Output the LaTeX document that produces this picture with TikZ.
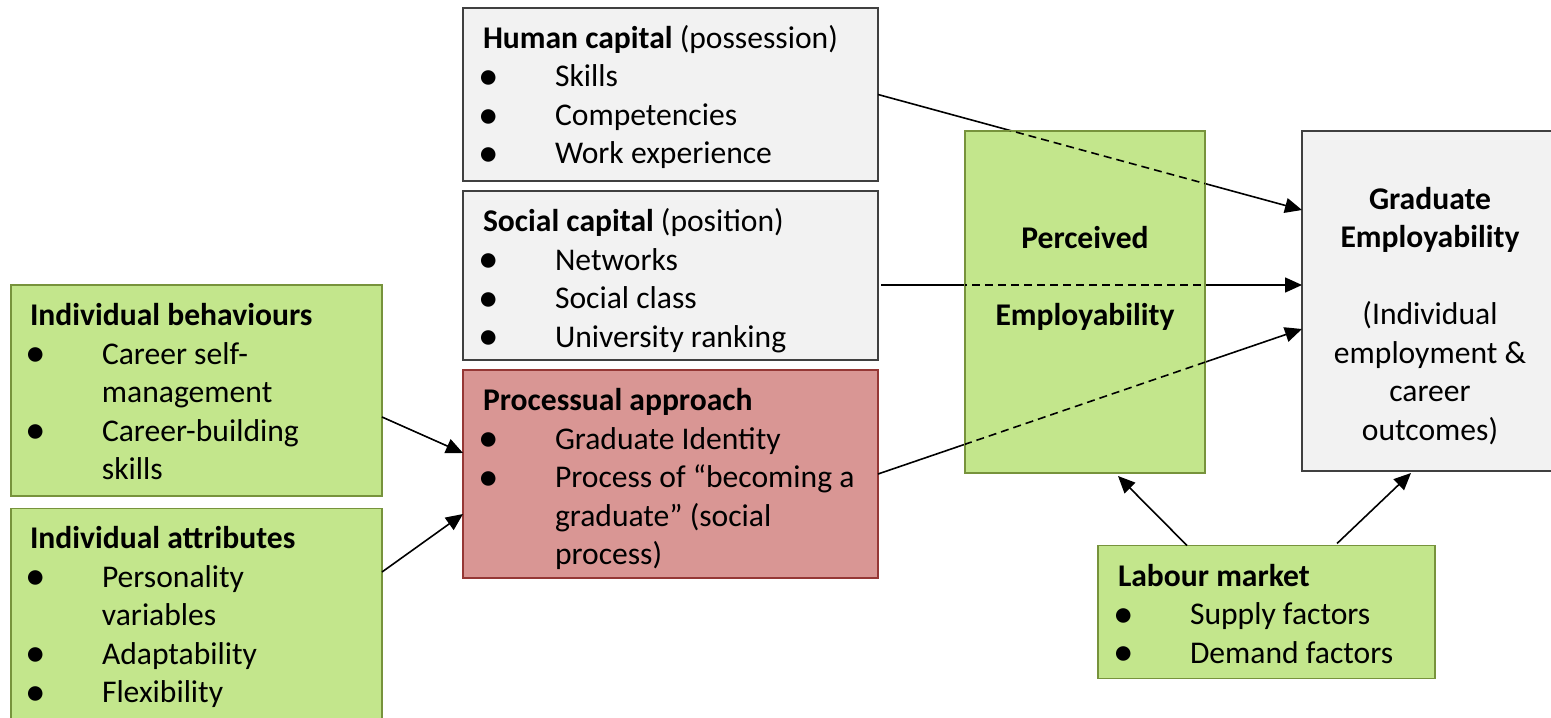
\documentclass[tikz,border=0pt]{standalone}
\usepackage{fontspec}
\setmainfont{Carlito}
\usetikzlibrary{calc,arrows.meta}
\definecolor{gfill}{HTML}{C3E68C}
\definecolor{gline}{HTML}{77933C}
\definecolor{kfill}{HTML}{F2F2F2}
\definecolor{kline}{HTML}{404040}
\definecolor{rfill}{HTML}{D99694}
\definecolor{rline}{HTML}{953735}
\newcommand\bul{\makebox[36pt][l]{\hspace{-2.4pt}\raisebox{-0.09em}{\scalebox{1.3}{•}}}}
\newcommand\Ln[1]{\hbox{#1}}
\newcommand\Bl[1]{\hbox{\bul #1}}
\newcommand\Cn[1]{\hbox{\hspace*{36pt}#1}}
\newcommand\Stk[1]{\vtop{#1}}
\begin{document}
\begin{tikzpicture}[x=0.5pt,y=-0.5pt,
  box/.style={anchor=north west, inner sep=0pt, outer sep=0pt, rectangle},
  greybox/.style={box, fill=kfill, draw=kline, line width=0.9pt},
  greenbox/.style={box, fill=gfill, draw=gline, line width=0.8pt},
  redbox/.style={box, fill=rfill, draw=rline, line width=0.8pt},
  txt/.style={anchor=base west, inner sep=0pt, outer sep=0pt, font=\fontsize{15.8pt}{19.25pt}\selectfont},
  ctxt/.style={anchor=base, inner sep=0pt, outer sep=0pt, font=\fontsize{15.8pt}{19.25pt}\selectfont},
  arr/.style={line width=0.8pt, -{Triangle[length=8.5pt,width=7.5pt]}},
  dline/.style={line width=0.8pt, dash pattern=on 4pt off 2.5pt}]
\clip (0,0) rectangle (1551,717);
\fill[white] (0,0) rectangle (1551,717);
% boxes
\node[greybox, minimum width=207.5pt, minimum height=86.5pt] (hc) at (463,8) {};
\node[greybox, minimum width=207.5pt, minimum height=84.5pt] (sc) at (463,191) {};
\node[redbox, minimum width=207.5pt, minimum height=104pt] (pa) at (463,370) {};
\node[greenbox, minimum width=185.5pt, minimum height=105.5pt] (ib) at (11,285) {};
\node[greenbox, minimum width=185.5pt, minimum height=115pt] (ia) at (11,508.5) {};
\node[greybox, minimum width=128pt, minimum height=170pt] (ge) at (1302,131) {};
\node[greenbox, minimum width=168.5pt, minimum height=66.5pt] (lm) at (1098,545.5) {};
% texts
\node[txt] (hct) at (483,48.5) {\Stk{\Ln{\textbf{Human capital} (possession)}\Bl{Skills}\Bl{Competencies}\Bl{Work experience}}};
\node[txt] (sct) at (483,231.5) {\Stk{\Ln{\textbf{Social capital} (position)}\Bl{Networks}\Bl{Social class}\Bl{University ranking}}};
\node[txt] (pat) at (483,410.5) {\Stk{\Ln{\textbf{Processual approach}}\Bl{Graduate Identity}\Bl{Process of “becoming a}\Cn{graduate” (social}\Cn{process)}}};
\node[txt] (ibt) at (30,325.5) {\Stk{\Ln{\textbf{Individual behaviours}}\Bl{Career self-}\Cn{management}\Bl{Career-building}\Cn{skills}}};
\node[txt] (iat) at (30,548.5) {\Stk{\Ln{\textbf{Individual attributes}}\Bl{Personality}\Cn{variables}\Bl{Adaptability}\Bl{Flexibility}}};
\node[txt] (lmt) at (1118,586) {\Stk{\Ln{\textbf{Labour market}}\Bl{Supply factors}\Bl{Demand factors}}};
\node[ctxt] (get) at (1430,209) {\vtop{\halign{\hfil#\hfil\cr \textbf{Graduate}\cr \textbf{Employability}\cr \cr (Individual\cr employment \&\cr career\cr outcomes)\cr}}};
% long arrows (behind the perceived box)
\draw[arr] (hc.east) -- ($(ge.north west)+(0,79)$);
\draw[arr] ($(sc.east)+(3,9.5)$) -- ($(ge.north west)+(0,154)$);
\draw[arr] (pa.east) -- ($(ge.north west)+(0,198)$);
% perceived employability box
\node[greenbox, minimum width=120pt, minimum height=171pt] (pe) at (965,131) {};
\node[ctxt] (pet) at (1085,248.5) {\vtop{\halign{\hfil\bfseries#\hfil\cr Perceived\cr \cr Employability\cr}}};
\begin{scope}
\clip (pe.south west) rectangle (pe.north east);
\draw[dline] (hc.east) -- ($(ge.north west)+(0,79)$);
\draw[dline] ($(sc.east)+(3,9.5)$) -- ($(ge.north west)+(0,154)$);
\draw[dline] (pa.east) -- ($(ge.north west)+(0,198)$);
\end{scope}
% short arrows
\draw[arr] ($(ib.north east)+(0,132)$) -- ($(pa.north west)+(0,83)$);
\draw[arr] ($(ia.north east)+(0,63.5)$) -- ($(pa.north west)+(0,144)$);
\draw[arr] ($(lm.north west)+(89,0)$) -- ($(pe.south west)+(153,3)$);
\draw[arr] ($(lm.north west)+(239,-2)$) -- ($(ge.south west)+(109,2)$);
\end{tikzpicture}
\end{document}
